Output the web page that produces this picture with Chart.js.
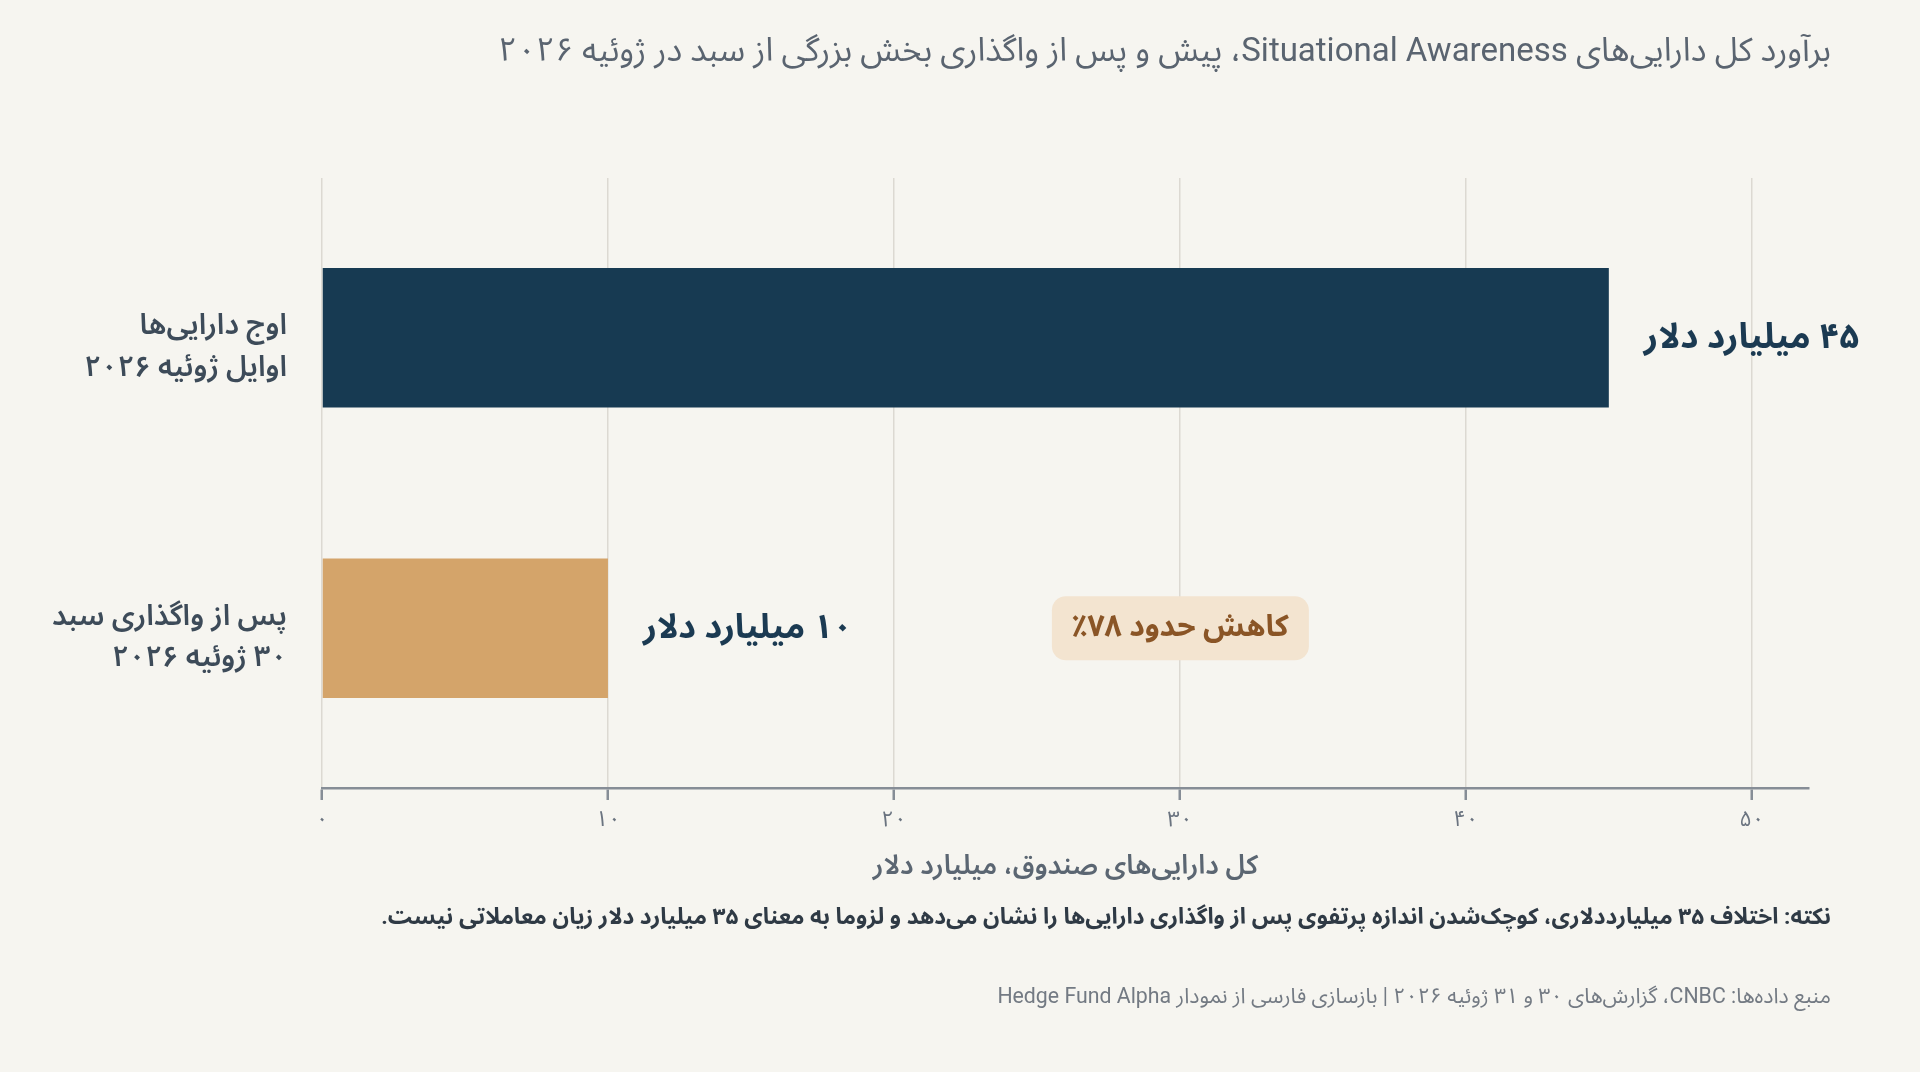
<!DOCTYPE html>
<html lang="fa">
<head>
<meta charset="utf-8">
<title>Situational Awareness</title>
<script src="https://cdn.jsdelivr.net/npm/chart.js@4.4.1/dist/chart.umd.min.js"></script>
<style>
	html, body { margin: 0; padding: 0; background: #f6f5f0; }
	#wrap { position: relative; width: 1920px; height: 1072px; }
</style>
</head>
<body>
<div id="wrap"><canvas id="mycanvas" dir="rtl"></canvas></div>
<script>
var categories = [
	['اوج دارایی‌ها', 'اوایل ژوئیه ۲۰۲۶'],
	['پس از واگذاری سبد', '۳۰ ژوئیه ۲۰۲۶']
];
var assets = [45, 10];
var xTicks = [0, 10, 20, 30, 40, 50];
var unit = 'میلیارد دلار';
var badgeAt = 30;

var titleText = 'برآورد کل دارایی‌های Situational Awareness، پیش و پس از واگذاری بخش بزرگی از سبد در ژوئیه ۲۰۲۶';
var axisTitle = 'کل دارایی‌های صندوق، میلیارد دلار';
var noteText = 'نکته: اختلاف ۳۵ میلیارددلاری، کوچک‌شدن اندازه پرتفوی پس از واگذاری دارایی‌ها را نشان می‌دهد و لزوما به معنای ۳۵ میلیارد دلار زیان معاملاتی نیست.';
var sourceText = 'منبع داده‌ها: CNBC، گزارش‌های ۳۰ و ۳۱ ژوئیه ۲۰۲۶ | بازسازی فارسی از نمودار Hedge Fund Alpha';

var FONT = "Roboto, 'Noto Sans Arabic', 'DejaVu Sans', sans-serif";
var barColors = ['#173a52', '#d4a46a'];

function fa(n) {
	return String(n).replace(/\d/g, function(d) { return '۰۱۲۳۴۵۶۷۸۹'[d]; });
}

var drop = Math.round((assets[0] - assets[1]) / assets[0] * 100);

var textPlugin = {
	id: 'texts',
	afterDraw: function(chart) {
		var ctx = chart.ctx;
		var meta = chart.getDatasetMeta(0);
		var xs = chart.scales.x;
		ctx.save();
		ctx.textBaseline = 'middle';

		ctx.font = '33px ' + FONT;
		ctx.fillStyle = '#5a6470';
		ctx.textAlign = 'right';
		ctx.fillText(titleText, 1831, 53);

		ctx.fillStyle = '#1b3a52';
		ctx.textAlign = 'left';
		meta.data.forEach(function(bar, i) {
			ctx.font = 'bold ' + (i === 0 ? 35 : 34) + 'px ' + FONT;
			ctx.fillText(fa(assets[i]) + ' ' + unit, bar.x + 35, bar.y + 1);
		});

		var bar = meta.data[1];
		var cx = xs.getPixelForValue(badgeAt);
		var label = 'کاهش حدود ' + fa(drop) + '٪';
		ctx.fillStyle = '#f3e4d0';
		ctx.beginPath();
		ctx.roundRect(cx - 128, bar.y - 32, 257, 64, 14);
		ctx.fill();
		ctx.font = 'bold 30px ' + FONT;
		ctx.fillStyle = '#8a5526';
		ctx.textAlign = 'center';
		ctx.fillText(label, cx, bar.y);

		ctx.textAlign = 'right';
		ctx.font = 'bold 22.7px ' + FONT;
		ctx.fillStyle = '#2f3a45';
		ctx.fillText(noteText, 1831, 918);

		ctx.font = '21.3px ' + FONT;
		ctx.fillStyle = '#737a83';
		ctx.fillText(sourceText, 1831, 998);
		ctx.restore();
	}
};

var ctx = document.getElementById('mycanvas');

var barGraph = new Chart(ctx, {
	type: 'bar',
	data: {
		datasets: [{
			data: assets.map(function(v, i) { return {x: v, y: i}; }),
			backgroundColor: barColors,
			borderWidth: 0,
			barPercentage: 0.48,
			categoryPercentage: 1
		}]
	},
	options: {
		indexAxis: 'y',
		responsive: true,
		maintainAspectRatio: false,
		animation: false,
		layout: { padding: { top: 178, right: 111, bottom: 189, left: 0 } },
		plugins: {
			legend: { display: false },
			tooltip: { enabled: false }
		},
		scales: {
			x: {
				type: 'linear',
				min: 0,
				max: 52,
				bounds: 'data',
				afterBuildTicks: function(scale) {
					scale.ticks = xTicks.map(function(v) { return {value: v}; });
				},
				afterFit: function(scale) { scale.height = 95; },
				grid: {
					color: '#dcd9d2',
					lineWidth: 1.5,
					tickColor: '#868d96',
					tickWidth: 2.5,
					tickLength: 12
				},
				border: { color: '#868d96', width: 2.5 },
				ticks: {
					padding: 7,
					color: '#6b7480',
					font: { family: FONT, size: 22 },
					callback: function(v) { return fa(v); }
				},
				title: {
					display: true,
					text: axisTitle,
					color: '#5b6672',
					padding: 0,
					font: { family: FONT, size: 27, weight: '600' }
				}
			},
			y: {
				type: 'linear',
				reverse: true,
				offset: false,
				bounds: 'data',
				min: -0.55,
				max: 1.55,
				afterBuildTicks: function(scale) {
					scale.ticks = categories.map(function(c, i) { return {value: i}; });
				},
				afterFit: function(scale) { scale.width = 322; },
				grid: { display: false, drawTicks: false },
				border: { display: false },
				ticks: {
					padding: 35,
					labelOffset: 10,
					color: '#3d4b59',
					font: { family: FONT, size: 29, weight: '600', lineHeight: 1.44 },
					callback: function(v) { return categories[v]; }
				}
			}
		}
	},
	plugins: [textPlugin]
});
</script>
</body>
</html>
